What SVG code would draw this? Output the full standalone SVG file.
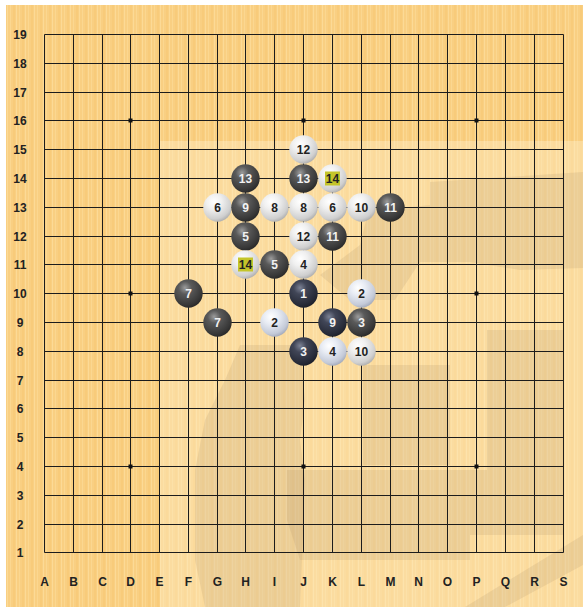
<svg xmlns="http://www.w3.org/2000/svg" width="583" height="607" viewBox="0 0 583 607">
<defs>
<pattern id="wood" width="9" height="20" patternUnits="userSpaceOnUse">
<rect width="9" height="20" fill="#F9CF82"/>
<rect x="1" width="1" height="20" fill="#FBD790"/>
<rect x="4" width="2" height="20" fill="#F8CB7A"/>
<rect x="7" width="1" height="20" fill="#FCDA96"/>
</pattern>
<radialGradient id="gb" cx="0.38" cy="0.3" r="0.75">
<stop offset="0" stop-color="#9c9c9c"/>
<stop offset="0.3" stop-color="#5a5a5a"/>
<stop offset="0.8" stop-color="#383838"/>
<stop offset="1" stop-color="#262626"/>
</radialGradient>
<radialGradient id="gbb" cx="0.38" cy="0.3" r="0.75">
<stop offset="0" stop-color="#7c8294"/>
<stop offset="0.3" stop-color="#414657"/>
<stop offset="0.8" stop-color="#272b38"/>
<stop offset="1" stop-color="#1a1d27"/>
</radialGradient>
<radialGradient id="gw" cx="0.38" cy="0.3" r="0.75">
<stop offset="0" stop-color="#ffffff"/>
<stop offset="0.35" stop-color="#f0f0f0"/>
<stop offset="0.8" stop-color="#cfcfcf"/>
<stop offset="1" stop-color="#a9a9a9"/>
</radialGradient>
<radialGradient id="gwb" cx="0.38" cy="0.3" r="0.75">
<stop offset="0" stop-color="#ffffff"/>
<stop offset="0.35" stop-color="#e8ecf4"/>
<stop offset="0.8" stop-color="#c4cad8"/>
<stop offset="1" stop-color="#9ea5b6"/>
</radialGradient>
</defs>
<style>
.grid line{stroke:#1c1c1c;stroke-width:1}
.lbl{font-family:"Liberation Sans",Arial,sans-serif;font-weight:bold;font-size:12px;fill:#222;text-anchor:middle}
.num{font-family:"Liberation Sans",Arial,sans-serif;font-weight:bold;font-size:12px;text-anchor:middle}
.b .num{fill:#f2f2f2}
.w .num{fill:#222}
.star{fill:#111}
.mark{fill:#C4C52A}
.wm{fill:#a88a62;opacity:0.17}
</style>
<rect width="583" height="607" fill="#ffffff"/>
<rect x="6" y="5" width="577" height="602" fill="url(#wood)"/>
<rect x="160" y="141" width="423" height="466" fill="#FFEFCC" opacity="0.4"/>
<g id="watermark">
<path class="wm" d="M430,182 L583,172 L583,268 L520,270 L470,262 L420,262 L395,300 L350,300 L320,275 L360,245 L368,212 L430,205 Z"/>
<path class="wm" d="M240,345 L300,345 L305,400 L300,440 L305,480 L300,607 L205,607 L195,560 L195,470 L205,420 L225,380 Z"/>
<path class="wm" d="M287,470 L563,470 L563,535 L470,535 L470,560 L300,560 L287,520 Z"/>
<path class="wm" d="M487,330 L563,330 L563,470 L487,470 Z"/>
<path class="wm" d="M363,365 L450,365 L450,465 L363,465 Z"/>
<path class="wm" d="M583,535 L583,565 L505,607 L465,607 Z"/>
</g>
<g class="grid" id="grid">
<line x1="44.5" y1="34.5" x2="563.5" y2="34.5"/>
<line x1="44.5" y1="63.5" x2="563.5" y2="63.5"/>
<line x1="44.5" y1="92.5" x2="563.5" y2="92.5"/>
<line x1="44.5" y1="120.5" x2="563.5" y2="120.5"/>
<line x1="44.5" y1="149.5" x2="563.5" y2="149.5"/>
<line x1="44.5" y1="178.5" x2="563.5" y2="178.5"/>
<line x1="44.5" y1="207.5" x2="563.5" y2="207.5"/>
<line x1="44.5" y1="236.5" x2="563.5" y2="236.5"/>
<line x1="44.5" y1="264.5" x2="563.5" y2="264.5"/>
<line x1="44.5" y1="293.5" x2="563.5" y2="293.5"/>
<line x1="44.5" y1="322.5" x2="563.5" y2="322.5"/>
<line x1="44.5" y1="351.5" x2="563.5" y2="351.5"/>
<line x1="44.5" y1="380.5" x2="563.5" y2="380.5"/>
<line x1="44.5" y1="408.5" x2="563.5" y2="408.5"/>
<line x1="44.5" y1="437.5" x2="563.5" y2="437.5"/>
<line x1="44.5" y1="466.5" x2="563.5" y2="466.5"/>
<line x1="44.5" y1="495.5" x2="563.5" y2="495.5"/>
<line x1="44.5" y1="524.5" x2="563.5" y2="524.5"/>
<line x1="44.5" y1="552.5" x2="563.5" y2="552.5"/>
<line x1="44.5" y1="34.5" x2="44.5" y2="552.5"/>
<line x1="73.5" y1="34.5" x2="73.5" y2="552.5"/>
<line x1="102.5" y1="34.5" x2="102.5" y2="552.5"/>
<line x1="130.5" y1="34.5" x2="130.5" y2="552.5"/>
<line x1="159.5" y1="34.5" x2="159.5" y2="552.5"/>
<line x1="188.5" y1="34.5" x2="188.5" y2="552.5"/>
<line x1="217.5" y1="34.5" x2="217.5" y2="552.5"/>
<line x1="245.5" y1="34.5" x2="245.5" y2="552.5"/>
<line x1="274.5" y1="34.5" x2="274.5" y2="552.5"/>
<line x1="303.5" y1="34.5" x2="303.5" y2="552.5"/>
<line x1="332.5" y1="34.5" x2="332.5" y2="552.5"/>
<line x1="361.5" y1="34.5" x2="361.5" y2="552.5"/>
<line x1="390.5" y1="34.5" x2="390.5" y2="552.5"/>
<line x1="418.5" y1="34.5" x2="418.5" y2="552.5"/>
<line x1="447.5" y1="34.5" x2="447.5" y2="552.5"/>
<line x1="476.5" y1="34.5" x2="476.5" y2="552.5"/>
<line x1="505.5" y1="34.5" x2="505.5" y2="552.5"/>
<line x1="534.5" y1="34.5" x2="534.5" y2="552.5"/>
<line x1="563.5" y1="34.5" x2="563.5" y2="552.5"/>
</g>
<g id="stars" class="star">
<rect x="128.5" y="118.5" width="4" height="4"/>
<rect x="301.5" y="118.5" width="4" height="4"/>
<rect x="474.5" y="118.5" width="4" height="4"/>
<rect x="128.5" y="291.5" width="4" height="4"/>
<rect x="474.5" y="291.5" width="4" height="4"/>
<rect x="128.5" y="464.5" width="4" height="4"/>
<rect x="301.5" y="464.5" width="4" height="4"/>
<rect x="474.5" y="464.5" width="4" height="4"/>
</g>
<g id="row-labels" class="lbl">
<text x="20" y="39">19</text>
<text x="20" y="68">18</text>
<text x="20" y="97">17</text>
<text x="20" y="125">16</text>
<text x="20" y="154">15</text>
<text x="20" y="183">14</text>
<text x="20" y="212">13</text>
<text x="20" y="241">12</text>
<text x="20" y="269">11</text>
<text x="20" y="298">10</text>
<text x="20" y="327">9</text>
<text x="20" y="356">8</text>
<text x="20" y="385">7</text>
<text x="20" y="413">6</text>
<text x="20" y="442">5</text>
<text x="20" y="471">4</text>
<text x="20" y="500">3</text>
<text x="20" y="529">2</text>
<text x="20" y="557">1</text>
</g>
<g id="col-labels" class="lbl">
<text x="44.5" y="586">A</text>
<text x="73.5" y="586">B</text>
<text x="102.5" y="586">C</text>
<text x="130.5" y="586">D</text>
<text x="159.5" y="586">E</text>
<text x="188.5" y="586">F</text>
<text x="217.5" y="586">G</text>
<text x="245.5" y="586">H</text>
<text x="274.5" y="586">I</text>
<text x="303.5" y="586">J</text>
<text x="332.5" y="586">K</text>
<text x="361.5" y="586">L</text>
<text x="390.5" y="586">M</text>
<text x="418.5" y="586">N</text>
<text x="447.5" y="586">O</text>
<text x="476.5" y="586">P</text>
<text x="505.5" y="586">Q</text>
<text x="534.5" y="586">R</text>
<text x="563.5" y="586">S</text>
</g>
<g id="stones">
<g id="J15" class="w"><circle cx="303.5" cy="149.5" r="14.2" fill="url(#gw)"/><text class="num" x="303.5" y="154">12</text></g>
<g id="H14" class="b"><circle cx="245.5" cy="178.5" r="14.2" fill="url(#gb)"/><text class="num" x="245.5" y="183">13</text></g>
<g id="J14" class="b"><circle cx="303.5" cy="178.5" r="14.2" fill="url(#gb)"/><text class="num" x="303.5" y="183">13</text></g>
<g id="K14" class="w"><circle cx="332.5" cy="178.5" r="14.2" fill="url(#gw)"/><rect class="mark" x="325" y="171.5" width="15" height="14"/><text class="num" x="332.5" y="183">14</text></g>
<g id="G13" class="w"><circle cx="217.5" cy="207.5" r="14.2" fill="url(#gw)"/><text class="num" x="217.5" y="212">6</text></g>
<g id="H13" class="b"><circle cx="245.5" cy="207.5" r="14.2" fill="url(#gb)"/><text class="num" x="245.5" y="212">9</text></g>
<g id="I13" class="w"><circle cx="274.5" cy="207.5" r="14.2" fill="url(#gw)"/><text class="num" x="274.5" y="212">8</text></g>
<g id="J13" class="w"><circle cx="303.5" cy="207.5" r="14.2" fill="url(#gw)"/><text class="num" x="303.5" y="212">8</text></g>
<g id="K13" class="w"><circle cx="332.5" cy="207.5" r="14.2" fill="url(#gw)"/><text class="num" x="332.5" y="212">6</text></g>
<g id="L13" class="w"><circle cx="361.5" cy="207.5" r="14.2" fill="url(#gw)"/><text class="num" x="361.5" y="212">10</text></g>
<g id="M13" class="b"><circle cx="390.5" cy="207.5" r="14.2" fill="url(#gb)"/><text class="num" x="390.5" y="212">11</text></g>
<g id="H12" class="b"><circle cx="245.5" cy="236.5" r="14.2" fill="url(#gb)"/><text class="num" x="245.5" y="241">5</text></g>
<g id="J12" class="w"><circle cx="303.5" cy="236.5" r="14.2" fill="url(#gw)"/><text class="num" x="303.5" y="241">12</text></g>
<g id="K12" class="b"><circle cx="332.5" cy="236.5" r="14.2" fill="url(#gb)"/><text class="num" x="332.5" y="241">11</text></g>
<g id="H11" class="w"><circle cx="245.5" cy="264.5" r="14.2" fill="url(#gw)"/><rect class="mark" x="238" y="257.5" width="15" height="14"/><text class="num" x="245.5" y="269">14</text></g>
<g id="I11" class="b"><circle cx="274.5" cy="264.5" r="14.2" fill="url(#gb)"/><text class="num" x="274.5" y="269">5</text></g>
<g id="J11" class="w"><circle cx="303.5" cy="264.5" r="14.2" fill="url(#gw)"/><text class="num" x="303.5" y="269">4</text></g>
<g id="F10" class="b"><circle cx="188.5" cy="293.5" r="14.2" fill="url(#gb)"/><text class="num" x="188.5" y="298">7</text></g>
<g id="J10" class="b"><circle cx="303.5" cy="293.5" r="14.2" fill="url(#gbb)"/><text class="num" x="303.5" y="298">1</text></g>
<g id="L10" class="w"><circle cx="361.5" cy="293.5" r="14.2" fill="url(#gwb)"/><text class="num" x="361.5" y="298">2</text></g>
<g id="G9" class="b"><circle cx="217.5" cy="322.5" r="14.2" fill="url(#gb)"/><text class="num" x="217.5" y="327">7</text></g>
<g id="I9" class="w"><circle cx="274.5" cy="322.5" r="14.2" fill="url(#gwb)"/><text class="num" x="274.5" y="327">2</text></g>
<g id="K9" class="b"><circle cx="332.5" cy="322.5" r="14.2" fill="url(#gbb)"/><text class="num" x="332.5" y="327">9</text></g>
<g id="L9" class="b"><circle cx="361.5" cy="322.5" r="14.2" fill="url(#gb)"/><text class="num" x="361.5" y="327">3</text></g>
<g id="J8" class="b"><circle cx="303.5" cy="351.5" r="14.2" fill="url(#gbb)"/><text class="num" x="303.5" y="356">3</text></g>
<g id="K8" class="w"><circle cx="332.5" cy="351.5" r="14.2" fill="url(#gwb)"/><text class="num" x="332.5" y="356">4</text></g>
<g id="L8" class="w"><circle cx="361.5" cy="351.5" r="14.2" fill="url(#gw)"/><text class="num" x="361.5" y="356">10</text></g>
</g>
</svg>
